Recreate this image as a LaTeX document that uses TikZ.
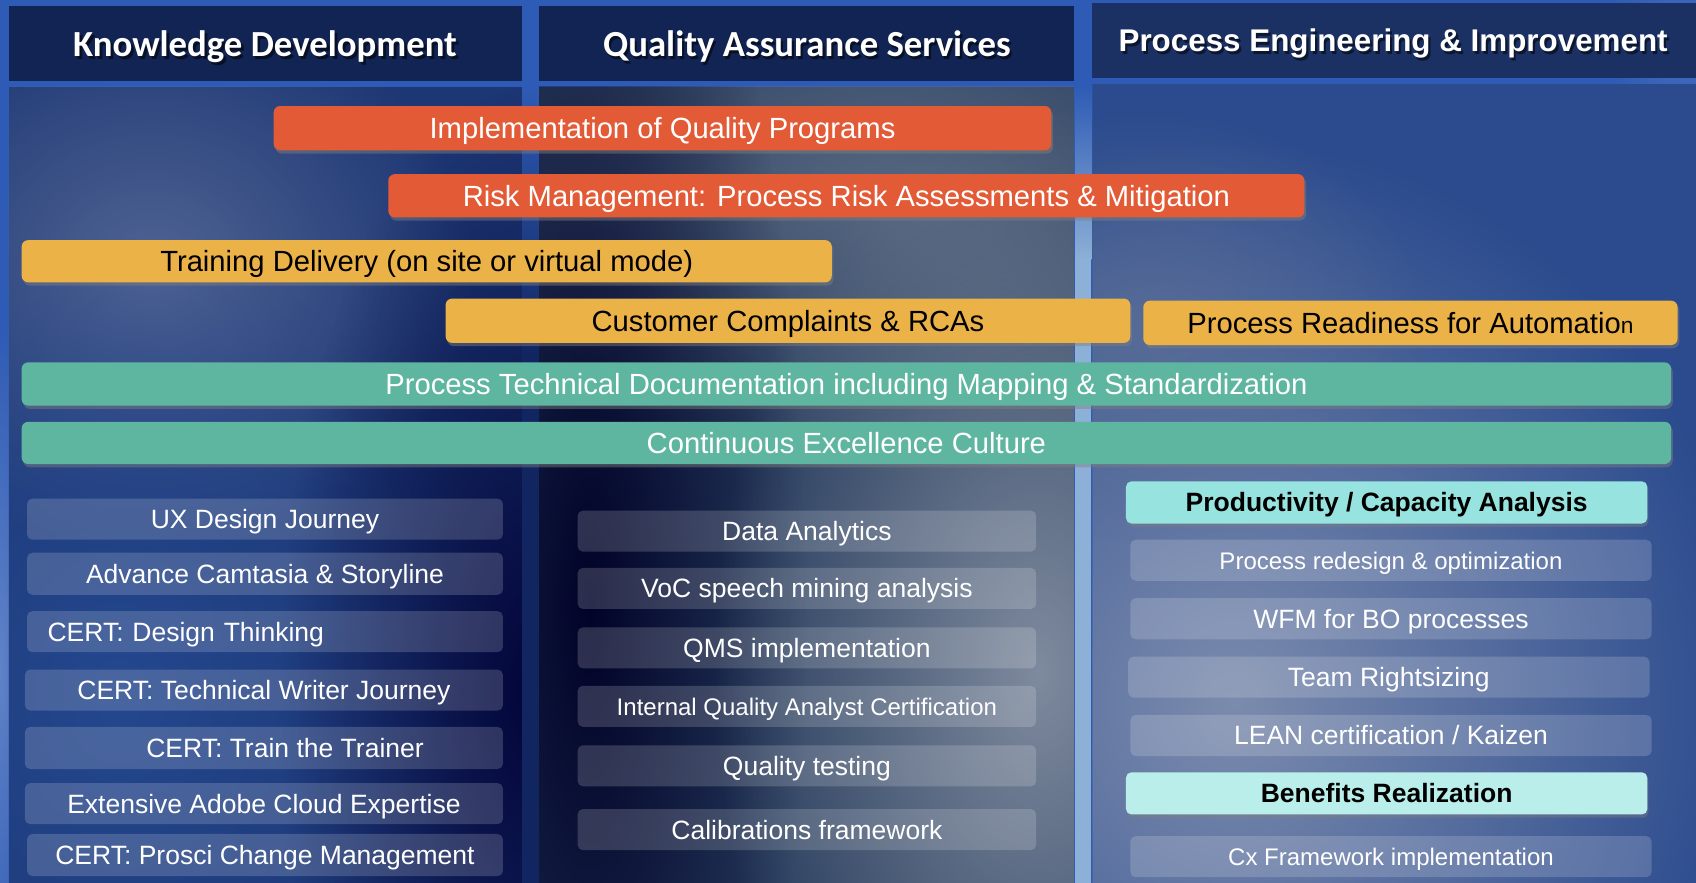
\documentclass[tikz,border=0pt]{standalone}
\usepackage{fontspec}
\setmainfont{Liberation Sans}
\newfontfamily\hdfont{Carlito}
\usetikzlibrary{shadows,fadings}
\definecolor{frameblue}{HTML}{2E5BB5}
\definecolor{navyA}{HTML}{112453}
\definecolor{navyB}{HTML}{1B3164}
\definecolor{barred}{HTML}{E35A36}
\definecolor{baryel}{HTML}{EBB248}
\definecolor{barteal}{HTML}{5EB6A1}
\definecolor{cyanA}{HTML}{97E3DF}
\definecolor{cyanB}{HTML}{B9EEEA}
\definecolor{stripblue}{HTML}{8DB0D6}
\definecolor{gapdark}{HTML}{112560}
\definecolor{cOnebase}{HTML}{1D3774}
\definecolor{cTwobase}{HTML}{263B5C}
\definecolor{cThreebase}{HTML}{2B4B8E}
\tikzfading[name=softblob, inner color=transparent!0, outer color=transparent!100]
\newcommand\bgblob[4]{\fill[#1, path fading=softblob] (#2) ellipse (#3 and #4);}
\tikzset{
  hdr/.style={fill=navyA, inner sep=0pt, text=white, font=\hdfont\bfseries\fontsize{34}{34}\selectfont},
  hdrshadow/.style={text=black, opacity=.55, inner sep=0pt, font=\hdfont\bfseries\fontsize{34}{34}\selectfont},
  bar/.style={rounded corners=6pt, inner sep=0pt, text height=22.5pt, text depth=3pt,
    font=\fontsize{27}{27}\selectfont, drop shadow={shadow xshift=1.5pt, shadow yshift=-3pt, opacity=.45}},
  redbar/.style={bar, fill=barred, text=white},
  yelbar/.style={bar, fill=baryel, text=black},
  tealbar/.style={bar, fill=barteal, text=white},
  gbox/.style={rounded corners=5pt, inner sep=0pt, fill=white, fill opacity=.17, text opacity=1,
    text=white, text height=20pt, text depth=2.6pt, font=\fontsize{24.5}{24.5}\selectfont},
  sbox/.style={gbox, text height=18.4pt, text depth=2.2pt, font=\fontsize{22.2}{22.2}\selectfont},
  cbox/.style={rounded corners=5pt, inner sep=0pt, text=black, text height=20pt, text depth=2.6pt,
    font=\bfseries\fontsize{24.5}{24.5}\selectfont, drop shadow={shadow xshift=1pt, shadow yshift=-3pt, opacity=.4}}
}
\begin{document}
\begin{tikzpicture}[x=1pt,y=-1pt]
\useasboundingbox (0,0) rectangle (1568,816);
% frame
\fill[frameblue] (0,0) rectangle (1568,816);
\bgblob{color=white!35!frameblue, opacity=.7}{0,620}{40}{320}
\bgblob{color=white!20!frameblue, opacity=.6}{1560,40}{80}{80}
% column 1 body
\begin{scope}
\clip (8,80) rectangle (483,816);
\fill[cOnebase] (8,80) rectangle (483,816);
\bgblob{color=white!25!cOnebase, opacity=.9}{140,250}{300}{260}
\bgblob{color=frameblue!80!black, opacity=.9}{110,640}{330}{420}
\bgblob{color=black!80!blue, opacity=.9}{490,640}{230}{560}
\end{scope}
% column 2 body
\begin{scope}
\clip (498,80) rectangle (993,816);
\fill[cTwobase] (498,80) rectangle (993,816);
\bgblob{color=white!25!cTwobase, opacity=.9}{820,180}{420}{260}
\bgblob{color=black!85!blue, opacity=.95}{545,560}{200}{760}
\bgblob{color=white!45!cTwobase, opacity=.9}{960,620}{300}{520}
\end{scope}
% column 3 body
\begin{scope}
\clip (1010,78) rectangle (1568,816);
\fill[cThreebase] (1010,78) rectangle (1568,816);
\bgblob{color=white!40!cThreebase!80!gray, opacity=.95}{1140,650}{480}{520}
\bgblob{color=white!15!cThreebase!70!gray, opacity=.8}{1060,300}{260}{200}
\end{scope}
% gaps
\shade[top color=frameblue, bottom color=gapdark] (483,80) rectangle (498,330);
\fill[gapdark] (483,330) rectangle (498,816);
\shade[top color=frameblue, bottom color=stripblue] (994,80) rectangle (1009,240);
\fill[stripblue] (994,240) rectangle (1009,816);
% headers
\node[hdr, minimum width=475, minimum height=69] (h1) at (245.5,40.5) {};
\node[hdr, minimum width=495, minimum height=69] (h2) at (745.5,40.5) {};
\node[hdr, fill=navyB, minimum width=558, minimum height=69] (h3) at (1289,37.5) {};
\node[hdrshadow] (h1s) at (247.5,45.5) {Knowledge Development};
\node[hdrshadow] (h2s) at (748,45.5) {Quality Assurance Services};
\node[hdrshadow, font=\bfseries\fontsize{29}{29}\selectfont] (h3s) at (1290,42.5) {Process Engineering \& Improvement};
\node[text=white, font=\hdfont\bfseries\fontsize{34}{34}\selectfont] (h1t) at (245,43) {Knowledge Development};
\node[text=white, font=\hdfont\bfseries\fontsize{34}{34}\selectfont] (h2t) at (746,43) {Quality Assurance Services};
\node[text=white, font=\bfseries\fontsize{29}{29}\selectfont] (h3t) at (1288,40) {Process Engineering \& Improvement};
% bars
\node[redbar, minimum width=719, minimum height=41] (impl) at (612.5,118.5) {Implementation of Quality Programs};
\node[redbar, minimum width=847, minimum height=40] (risk) at (782.5,181) {Risk Management: Process Risk Assessments \& Mitigation};
\node[yelbar, minimum width=749, minimum height=39] (train) at (394.5,241.5) {Training Delivery (on site or virtual mode)};
\node[yelbar, minimum width=633, minimum height=41] (cust) at (728.5,296.5) {Customer Complaints \& RCAs};
\node[yelbar, minimum width=494, minimum height=41] (auto) at (1304,298.5) {Process Readiness for Automatio{\fontsize{21}{21}\selectfont n}};
\node[tealbar, minimum width=1525, minimum height=40] (doc) at (782.5,355) {Process Technical Documentation including Mapping \& Standardization};
\node[tealbar, minimum width=1525, minimum height=39] (cont) at (782.5,409.5) {Continuous Excellence Culture};
% column 1 boxes
\node[gbox, minimum width=440, minimum height=38] (k1) at (245,480) {UX Design Journey};
\node[gbox, minimum width=440, minimum height=39] (k2) at (245,530.5) {Advance Camtasia \& Storyline};
\node[gbox, minimum width=440, minimum height=38, text width=402, align=left, inner xsep=19pt] (k3) at (245,584) {CERT: Design Thinking};
\node[gbox, minimum width=442, minimum height=38] (k4) at (244,638) {CERT: Technical Writer Journey};
\node[gbox, minimum width=442, minimum height=39] (k5) at (244,691.5) {\hspace*{39pt}CERT: Train the Trainer};
\node[gbox, minimum width=442, minimum height=38] (k6) at (244,743) {Extensive Adobe Cloud Expertise};
\node[gbox, minimum width=440, minimum height=39] (k7) at (245,790.5) {CERT: Prosci Change Management};
% column 2 boxes
\node[gbox, minimum width=424, minimum height=38] (q1) at (746,491) {Data Analytics};
\node[gbox, minimum width=424, minimum height=38] (q2) at (746,544) {VoC speech mining analysis};
\node[gbox, minimum width=424, minimum height=38] (q3) at (746,599) {QMS implementation};
\node[sbox, minimum width=424, minimum height=38] (q4) at (746,653) {Internal Quality Analyst Certification};
\node[gbox, minimum width=424, minimum height=38] (q5) at (746,708) {Quality testing};
\node[gbox, minimum width=424, minimum height=38] (q6) at (746,767) {Calibrations framework};
% column 3 boxes
\node[cbox, fill=cyanA, minimum width=482, minimum height=39] (p1) at (1282,464.5) {Productivity / Capacity Analysis};
\node[sbox, minimum width=482, minimum height=38] (p2) at (1286,518) {Process redesign \& optimization};
\node[gbox, minimum width=482, minimum height=38] (p3) at (1286,572) {WFM for BO processes};
\node[gbox, minimum width=482, minimum height=38] (p4) at (1284,626) {Team Rightsizing};
\node[gbox, minimum width=482, minimum height=38] (p5) at (1286,680) {LEAN certification / Kaizen};
\node[cbox, fill=cyanB, minimum width=482, minimum height=39] (p6) at (1282,733.5) {Benefits Realization};
\node[sbox, minimum width=482, minimum height=38] (p7) at (1286,792) {Cx Framework implementation};
\end{tikzpicture}
\end{document}
